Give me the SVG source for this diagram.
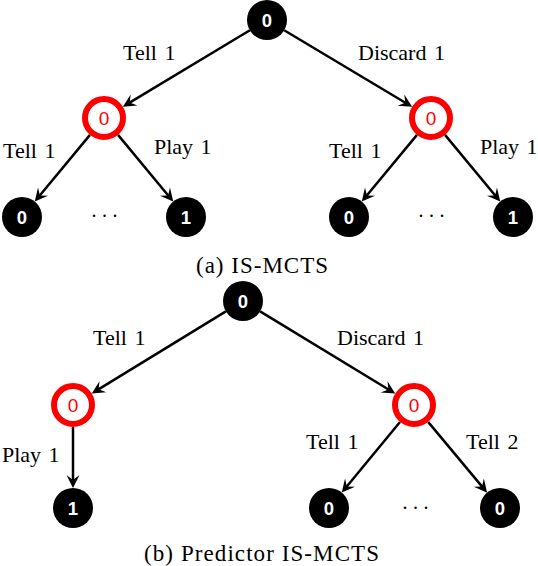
<svg xmlns="http://www.w3.org/2000/svg" width="538" height="566" viewBox="0 0 538 566">
<style>
.lbl{font-family:"Liberation Serif","Times New Roman",serif;font-size:22px;fill:#000;word-spacing:2px}
.cap{font-family:"Liberation Serif","Times New Roman",serif;font-size:23px;fill:#000}
.dots{font-family:"Liberation Serif","Times New Roman",serif;font-size:20px;fill:#000;letter-spacing:5.5px}
.bn{fill:#000}
.bt{font-family:"Liberation Sans",Arial,sans-serif;font-size:18.5px;font-weight:bold;fill:#fff;text-anchor:middle}
.rn{fill:#fff;stroke:#ff0000;stroke-width:6}
.rt{font-family:"Liberation Sans",Arial,sans-serif;font-size:19px;fill:#ff0000;text-anchor:middle}
.e{stroke:#000;stroke-width:2.5;fill:none;marker-end:url(#arr)}
</style>
<defs>
<marker id="arr" viewBox="-14 -8 16 16" refX="-4" refY="0" markerWidth="16" markerHeight="16" markerUnits="userSpaceOnUse" orient="auto">
<path d="M0,0 L-13,-6.5 L-8,0 L-13,6.5 Z" fill="#000"/>
</marker>
</defs>
<g id="connectors">
<line class="e" x1="249.9" y1="30.3" x2="126.3" y2="104.6"/>
<line class="e" x1="284.2" y1="30.3" x2="408.7" y2="104.7"/>
<line class="e" x1="90.0" y1="134.9" x2="37.3" y2="198.5"/>
<line class="e" x1="118.0" y1="134.9" x2="170.7" y2="198.5"/>
<line class="e" x1="417.0" y1="134.9" x2="364.3" y2="198.5"/>
<line class="e" x1="445.0" y1="134.9" x2="497.7" y2="198.5"/>
<line class="e" x1="225.9" y1="311.4" x2="95.2" y2="391.4"/>
<line class="e" x1="260.1" y1="311.4" x2="391.8" y2="391.5"/>
<line class="e" x1="73" y1="427" x2="73" y2="484"/>
<line class="e" x1="400.0" y1="422.0" x2="344.3" y2="489.5"/>
<line class="e" x1="428.1" y1="421.9" x2="484.6" y2="489.6"/>
</g>
<g id="labels">
<text class="lbl" x="123" y="60">Tell 1</text>
<text class="lbl" x="358" y="60">Discard 1</text>
<text class="lbl" x="3" y="158">Tell 1</text>
<text class="lbl" x="154" y="154">Play 1</text>
<text class="lbl" x="329" y="158">Tell 1</text>
<text class="lbl" x="480" y="154">Play 1</text>
<text class="lbl" x="93" y="345">Tell 1</text>
<text class="lbl" x="337" y="345">Discard 1</text>
<text class="lbl" x="2" y="462">Play 1</text>
<text class="lbl" x="306" y="449">Tell 1</text>
<text class="lbl" x="466" y="449">Tell 2</text>
<text class="dots" x="91.5" y="216.5">...</text>
<text class="dots" x="418.5" y="216.5">...</text>
<text class="dots" x="402.5" y="509">...</text>
<text class="cap" x="196" y="273" textLength="132" lengthAdjust="spacing">(a) IS-MCTS</text>
<text class="cap" x="144" y="561" textLength="235" lengthAdjust="spacing">(b) Predictor IS-MCTS</text>
</g>
<g id="a_root"><circle class="bn" cx="267" cy="20" r="20"/><text class="bt" x="267" y="26.5">0</text></g>
<g id="a_left"><circle class="rn" cx="104" cy="118" r="19"/><text class="rt" x="104" y="125">0</text></g>
<g id="a_right"><circle class="rn" cx="431" cy="118" r="19"/><text class="rt" x="431" y="125">0</text></g>
<g id="a_leaf1"><circle class="bn" cx="22" cy="217" r="20"/><text class="bt" x="22" y="223.5">0</text></g>
<g id="a_leaf2"><circle class="bn" cx="186" cy="217" r="20"/><text class="bt" x="186" y="223.5">1</text></g>
<g id="a_leaf3"><circle class="bn" cx="349" cy="217" r="20"/><text class="bt" x="349" y="223.5">0</text></g>
<g id="a_leaf4"><circle class="bn" cx="513" cy="217" r="20"/><text class="bt" x="513" y="223.5">1</text></g>
<g id="b_root"><circle class="bn" cx="243" cy="301" r="20"/><text class="bt" x="243" y="307.5">0</text></g>
<g id="b_left"><circle class="rn" cx="73" cy="405" r="19"/><text class="rt" x="73" y="412">0</text></g>
<g id="b_right"><circle class="rn" cx="414" cy="405" r="19"/><text class="rt" x="414" y="412">0</text></g>
<g id="b_leaf1"><circle class="bn" cx="73" cy="508" r="20"/><text class="bt" x="73" y="514.5">1</text></g>
<g id="b_leaf2"><circle class="bn" cx="329" cy="508" r="20"/><text class="bt" x="329" y="514.5">0</text></g>
<g id="b_leaf3"><circle class="bn" cx="500" cy="508" r="20"/><text class="bt" x="500" y="514.5">0</text></g>
</svg>
